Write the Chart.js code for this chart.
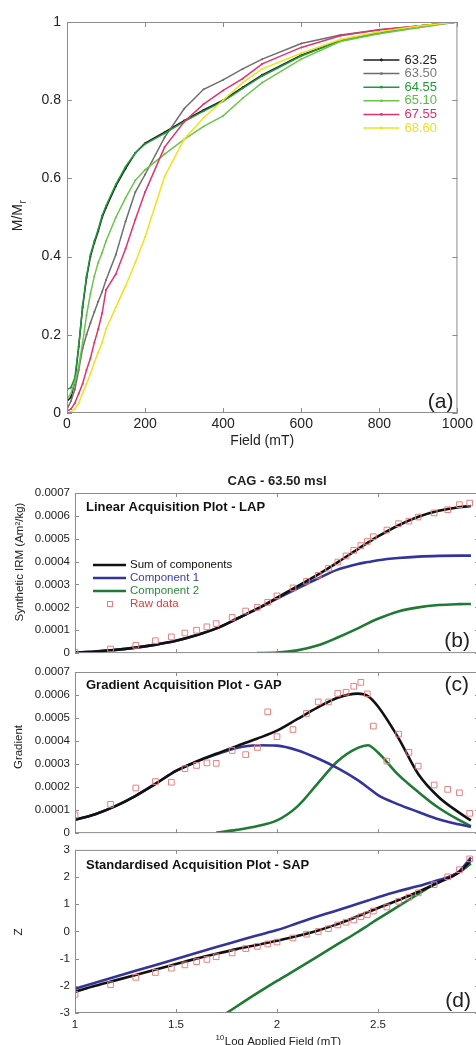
<!DOCTYPE html>
<html>
<head>
<meta charset="utf-8">
<script src="https://cdn.jsdelivr.net/npm/chart.js@4.4.1/dist/chart.umd.min.js"></script>
<style>
  html, body { margin: 0; padding: 0; background: #fff; width: 476px; height: 1045px; overflow: hidden; position: relative; }
  canvas { position: absolute; left: 0; }
</style>
</head>
<body>
<canvas id="figA" width="476" height="455" style="top:0"></canvas>
<canvas id="figB" width="486" height="205" style="top:460px"></canvas>
<canvas id="figC" width="486" height="185" style="top:660px"></canvas>
<canvas id="figD" width="486" height="207" style="top:838px"></canvas>
<script>
// ---- (a) normalised IRM acquisition, M/Mr vs field (mT) ----
const fieldA = [0, 10, 20, 30, 40, 50, 60, 70, 80, 90, 100, 125, 150, 175, 200, 250, 300, 350, 400, 450, 500, 600, 700, 800, 900, 1000];
const sampleLabels = ['63.25', '63.50', '64.55', '65.10', '67.55', '68.60'];
const m6325 = [0.03, 0.04, 0.08, 0.17, 0.27, 0.345, 0.40, 0.435, 0.465, 0.50, 0.525, 0.58, 0.625, 0.665, 0.69, 0.718, 0.748, 0.775, 0.80, 0.833, 0.865, 0.915, 0.953, 0.973, 0.99, 1];
const m6350 = [0.01, 0.03, 0.06, 0.11, 0.165, 0.20, 0.23, 0.258, 0.285, 0.31, 0.34, 0.405, 0.49, 0.565, 0.61, 0.705, 0.778, 0.828, 0.852, 0.88, 0.905, 0.945, 0.967, 0.98, 0.99, 1];
const m6455 = [0.06, 0.065, 0.09, 0.17, 0.275, 0.35, 0.405, 0.44, 0.47, 0.505, 0.53, 0.585, 0.63, 0.665, 0.688, 0.715, 0.745, 0.772, 0.797, 0.83, 0.862, 0.913, 0.952, 0.972, 0.99, 1];
const m6510 = [0.035, 0.05, 0.08, 0.12, 0.18, 0.25, 0.305, 0.35, 0.385, 0.41, 0.44, 0.50, 0.55, 0.595, 0.622, 0.662, 0.70, 0.733, 0.76, 0.805, 0.845, 0.905, 0.95, 0.97, 0.985, 1];
const m6755 = [0.005, 0.01, 0.025, 0.05, 0.075, 0.11, 0.14, 0.18, 0.215, 0.255, 0.315, 0.355, 0.42, 0.495, 0.565, 0.68, 0.745, 0.79, 0.825, 0.855, 0.893, 0.935, 0.965, 0.98, 0.99, 1];
const m6860 = [0, 0.003, 0.01, 0.025, 0.05, 0.075, 0.10, 0.13, 0.155, 0.18, 0.215, 0.27, 0.325, 0.385, 0.45, 0.605, 0.70, 0.755, 0.80, 0.845, 0.88, 0.92, 0.955, 0.975, 0.99, 1];
const sampleSeries = [m6325, m6350, m6455, m6510, m6755, m6860];

// ---- (b)-(d) IRM component analysis, x = log10 applied field (mT) ----
const logField = [1.0, 1.1, 1.2, 1.3, 1.4, 1.5, 1.6, 1.7, 1.8, 1.9, 2.0, 2.1, 2.2, 2.3, 2.4, 2.45, 2.5, 2.6, 2.7, 2.8, 2.9, 2.96];
const rawLogField = [1.0, 1.176, 1.301, 1.398, 1.477, 1.544, 1.602, 1.653, 1.699, 1.778, 1.845, 1.903, 1.954, 2.0, 2.079, 2.146, 2.204, 2.255, 2.301, 2.342, 2.380, 2.415, 2.447, 2.477, 2.544, 2.602, 2.653, 2.699, 2.778, 2.845, 2.903, 2.954];
const seriesNames = ['Sum of components', 'Component 1', 'Component 2', 'Raw data'];

const lapSum = [0.000002, 0.000007, 0.000014, 0.000024, 0.000037, 0.000054, 0.000078, 0.000108, 0.00015, 0.000193, 0.000242, 0.000292, 0.000342, 0.000397, 0.000455, 0.000483, 0.00051, 0.000558, 0.000596, 0.000622, 0.000638, 0.000643];
const lapComp1 = [0.000002, 0.000007, 0.000014, 0.000024, 0.000037, 0.000054, 0.000078, 0.000108, 0.000149, 0.000192, 0.000238, 0.000282, 0.000325, 0.000365, 0.00039, 0.000398, 0.000406, 0.000416, 0.000422, 0.000425, 0.000426, 0.000426];
const lapComp2 = [null, null, null, null, null, null, null, null, null, 0, 0.000002, 0.000012, 0.000033, 0.000068, 0.000108, 0.00013, 0.00015, 0.000182, 0.0002, 0.00021, 0.000214, 0.000215];
const lapRaw = [0.000004, 0.000018, 0.000034, 0.000054, 0.000071, 0.000088, 0.0001, 0.000115, 0.000129, 0.000156, 0.000184, 0.0002, 0.000222, 0.00025, 0.000285, 0.000314, 0.00034, 0.000371, 0.000398, 0.000425, 0.000449, 0.00047, 0.000488, 0.000509, 0.000538, 0.000566, 0.000577, 0.000595, 0.000613, 0.000627, 0.000649, 0.000656];

const gapSum = [0.000058, 0.000082, 0.000117, 0.000162, 0.000215, 0.00027, 0.00031, 0.000345, 0.000378, 0.00041, 0.000445, 0.000495, 0.000545, 0.000588, 0.000606, 0.000595, 0.00055, 0.000415, 0.000256, 0.000157, 0.00009, 0.000055];
const gapComp1 = [0.000058, 0.000082, 0.000117, 0.000162, 0.000215, 0.00027, 0.00031, 0.000342, 0.00037, 0.000382, 0.00038, 0.00036, 0.000325, 0.000282, 0.00023, 0.000198, 0.000165, 0.000125, 0.000092, 0.00006, 0.000038, 0.000027];
const gapComp2 = [null, null, null, null, null, null, null, 0.000002, 0.000014, 0.00003, 0.000055, 0.000115, 0.000214, 0.000312, 0.00037, 0.000382, 0.00035, 0.000254, 0.000178, 0.00011, 0.000057, 0.00003];
const gapRaw = [0.000079, 0.000125, 0.000196, 0.000224, 0.000221, 0.00028, 0.000294, 0.000305, 0.000303, 0.000359, 0.000341, 0.000372, 0.000527, 0.000419, 0.00045, 0.00052, 0.00057, 0.00057, 0.000607, 0.000612, 0.000638, 0.000655, 0.000605, 0.000465, 0.000313, 0.00043, 0.000351, 0.000291, 0.000209, 0.00019, 0.000175, 0.000086];

const sapSum = [-2.22, -2.0, -1.8, -1.6, -1.4, -1.2, -1.0, -0.82, -0.65, -0.5, -0.34, -0.17, 0.03, 0.27, 0.56, 0.71, 0.86, 1.15, 1.46, 1.8, 2.17, 2.62];
const sapComp1 = [-2.11, -1.89, -1.67, -1.45, -1.23, -1.01, -0.79, -0.57, -0.36, -0.15, 0.05, 0.3, 0.55, 0.78, 1.02, 1.14, 1.26, 1.48, 1.67, 1.89, 2.2, 2.72];
const sapComp2 = [null, null, null, null, null, null, null, -3.25, -2.76, -2.28, -1.82, -1.38, -0.93, -0.47, -0.02, 0.22, 0.46, 0.92, 1.38, 1.83, 2.17, 2.5];
const sapRaw = [-2.31, -1.96, -1.69, -1.51, -1.35, -1.23, -1.11, -1.03, -0.93, -0.79, -0.63, -0.55, -0.46, -0.39, -0.24, -0.1, 0.0, 0.1, 0.24, 0.34, 0.42, 0.54, 0.62, 0.75, 0.9, 1.11, 1.26, 1.42, 1.72, 2.01, 2.27, 2.67];

// styles
const FONT = '"Liberation Sans", Arial, Helvetica, sans-serif';
const sampleColors = ['#1c1c1c', '#6e6e6e', '#1f9a3b', '#6cc44c', '#e2336c', '#f0e21c'];
const sampleTextColors = ['#222', '#7a7a7a', '#23983a', '#5cb845', '#e0306a', '#efe020'];
const compColors = ['#111111', '#33349a', '#1f7a34', '#e88080'];
const compTextColors = ['#111', '#3a3cb0', '#2b8a3c', '#e43a3a'];
const frameColor = '#8c8c8c';

Chart.defaults.font.family = FONT;
Chart.defaults.color = '#222';
Chart.defaults.animation = false;

const pairs = (xs, ys) => xs.map((x, i) => ({ x, y: ys[i] }));

function txt(ctx, s, x, y, font, color, align) {
  ctx.font = font;
  ctx.fillStyle = color;
  ctx.textAlign = align || 'left';
  ctx.textBaseline = 'middle';
  ctx.fillText(s, x, y);
}

// box round the plot with inward ticks on all four sides
const framePlugin = {
  id: 'frame',
  afterDraw(chart, args, opts) {
    const { ctx, chartArea: a, scales } = chart;
    const t = opts.tick || 5;
    ctx.save();
    ctx.strokeStyle = frameColor;
    ctx.lineWidth = 1;
    ctx.strokeRect(a.left + 0.5, a.top + 0.5, a.right - a.left - 1, a.bottom - a.top - 1);
    ctx.beginPath();
    scales.x.ticks.forEach(tk => {
      const x = Math.round(scales.x.getPixelForValue(tk.value)) + 0.5;
      ctx.moveTo(x, a.bottom); ctx.lineTo(x, a.bottom - t);
      ctx.moveTo(x, a.top); ctx.lineTo(x, a.top + t);
    });
    scales.y.ticks.forEach(tk => {
      const y = Math.round(scales.y.getPixelForValue(tk.value)) + 0.5;
      ctx.moveTo(a.left, y); ctx.lineTo(a.left + t, y);
      ctx.moveTo(a.right, y); ctx.lineTo(a.right - t, y);
    });
    ctx.stroke();
    ctx.restore();
  }
};

// ---------- panel (a) ----------
const labelsA = {
  id: 'labelsA',
  afterDraw(chart) {
    const { ctx, chartArea: a } = chart;
    ctx.save();
    chart.data.datasets.forEach((ds, i) => {
      const y = a.top + 38 + i * 13.6;
      ctx.strokeStyle = ds.borderColor;
      ctx.lineWidth = 1.5;
      ctx.beginPath(); ctx.moveTo(a.right - 94, y); ctx.lineTo(a.right - 58, y); ctx.stroke();
      ctx.fillStyle = ds.borderColor;
      ctx.beginPath(); ctx.arc(a.right - 76, y, 1.4, 0, Math.PI * 2); ctx.fill();
      txt(ctx, ds.label, a.right - 53, y, '13px ' + FONT, sampleTextColors[i]);
    });
    txt(ctx, '(a)', a.right - 4, a.bottom - 11, '21px ' + FONT, '#222', 'right');
    txt(ctx, 'Field (mT)', (a.left + a.right) / 2, 441, '14px ' + FONT, '#222', 'center');
    // y title M/M with subscript r, rotated
    ctx.translate(18, 216);
    ctx.rotate(-Math.PI / 2);
    ctx.font = '14px ' + FONT;
    const w1 = ctx.measureText('M/M').width;
    ctx.font = '10px ' + FONT;
    const w2 = ctx.measureText('r').width;
    const x0 = -(w1 + w2) / 2;
    txt(ctx, 'M/M', x0, 0, '14px ' + FONT, '#222');
    txt(ctx, 'r', x0 + w1 + 0.5, 5, '10px ' + FONT, '#222');
    ctx.restore();
  }
};

new Chart(document.getElementById('figA'), {
  type: 'line',
  data: {
    datasets: sampleSeries.map((s, i) => ({
      label: sampleLabels[i],
      data: pairs(fieldA, s),
      borderColor: sampleColors[i],
      backgroundColor: sampleColors[i],
      borderWidth: 1.5,
      pointRadius: 1,
      pointBorderWidth: 0,
      tension: 0,
      order: sampleSeries.length - i
    }))
  },
  options: {
    responsive: false,
    layout: { padding: { top: 22, right: 15, left: 0, bottom: 0 } },
    plugins: { legend: { display: false }, tooltip: { enabled: false }, frame: { tick: 5 } },
    scales: {
      x: {
        type: 'linear', min: 0, max: 1000,
        grid: { display: false, drawTicks: false }, border: { display: false },
        ticks: { stepSize: 200, padding: 3, font: { size: 14 }, color: '#222', maxRotation: 0,
          callback: v => String(v) },
        afterFit: s => { s.height = 42; }
      },
      y: {
        min: 0, max: 1,
        grid: { display: false, drawTicks: false }, border: { display: false },
        ticks: { stepSize: 0.2, padding: 6, font: { size: 14 }, color: '#222', autoSkip: false,
          callback: v => String(+v.toFixed(1)) },
        afterFit: s => { s.width = 67; }
      }
    }
  },
  plugins: [framePlugin, labelsA]
});

// ---------- panels (b)-(d) ----------
function compDatasets(sum, c1, c2, raw) {
  const line = (i, ys, ord) => ({
    label: seriesNames[i], data: pairs(logField, ys), borderColor: compColors[i],
    borderWidth: 2.6, pointRadius: 0, cubicInterpolationMode: 'monotone', spanGaps: false, order: ord
  });
  return [
    line(0, sum, 1),
    line(1, c1, 2),
    line(2, c2, 3),
    { label: seriesNames[3], data: pairs(rawLogField, raw), showLine: false,
      pointStyle: 'rect', pointRadius: 4, pointBorderWidth: 1,
      borderColor: compColors[3], backgroundColor: 'rgba(0,0,0,0)', order: 0 }
  ];
}

function compChart(id, datasets, yOpts, layout, showX, drawText) {
  return new Chart(document.getElementById(id), {
    type: 'line',
    data: { datasets },
    options: {
      responsive: false,
      layout: { padding: { top: layout.top, right: 7, left: 0, bottom: 0 } },
      plugins: { legend: { display: false }, tooltip: { enabled: false }, frame: { tick: 4 } },
      scales: {
        x: {
          type: 'linear', min: 1, max: 3,
          grid: { display: false, drawTicks: false }, border: { display: false },
          ticks: { display: showX, stepSize: 0.5, padding: 5, font: { size: 11.5 }, color: '#222', maxRotation: 0,
            callback: v => (v >= 3 ? '' : String(+v.toFixed(1))) },
          afterFit: s => { s.height = layout.xh; }
        },
        y: Object.assign({
          grid: { display: false, drawTicks: false }, border: { display: false },
          afterFit: s => { s.width = 75; }
        }, yOpts)
      }
    },
    plugins: [framePlugin, { id: 'txt' + id, afterDraw: chart => {
      const ctx = chart.ctx;
      ctx.save();
      drawText(ctx, chart.chartArea, chart);
      ctx.restore();
    } }]
  });
}

const irmAxis = {
  min: 0, max: 0.0007,
  ticks: { stepSize: 0.0001, padding: 5, font: { size: 11.5 }, color: '#222', autoSkip: false,
    callback: v => (Math.abs(v) < 1e-9 ? '0' : v.toFixed(4)) }
};

function rotatedTitle(ctx, s, x, y, font) {
  ctx.save();
  ctx.translate(x, y);
  ctx.rotate(-Math.PI / 2);
  txt(ctx, s, 0, 0, font, '#222', 'center');
  ctx.restore();
}

compChart('figB', compDatasets(lapSum, lapComp1, lapComp2, lapRaw), irmAxis, { top: 33, xh: 8 }, false, (ctx, a, chart) => {
  txt(ctx, 'CAG - 63.50 msl', (a.left + 479) / 2, a.top - 12, 'bold 13px ' + FONT, '#222', 'center');
  txt(ctx, 'Linear Acquisition Plot - LAP', a.left + 11, a.top + 14, 'bold 13px ' + FONT, '#111');
  txt(ctx, '(b)', 470, a.bottom - 12, '21px ' + FONT, '#222', 'right');
  chart.data.datasets.forEach((ds, i) => {
    const y = a.top + 72 + i * 13;
    if (i < 3) {
      ctx.strokeStyle = ds.borderColor; ctx.lineWidth = 2.6;
      ctx.beginPath(); ctx.moveTo(93, y); ctx.lineTo(126, y); ctx.stroke();
    } else {
      ctx.strokeStyle = ds.borderColor; ctx.lineWidth = 1;
      ctx.strokeRect(107.5, y - 2.5, 5, 5);
    }
    txt(ctx, ds.label, 130, y, '11.5px ' + FONT, compTextColors[i]);
  });
  rotatedTitle(ctx, 'Synthetic IRM (Am²/kg)', 20, a.top + 69, '11.5px ' + FONT);
});

compChart('figC', compDatasets(gapSum, gapComp1, gapComp2, gapRaw), irmAxis, { top: 12, xh: 8 }, false, (ctx, a) => {
  txt(ctx, 'Gradient Acquisition Plot - GAP', a.left + 11, a.top + 13, 'bold 13px ' + FONT, '#111');
  txt(ctx, '(c)', 469, a.top + 13, '21px ' + FONT, '#222', 'right');
  rotatedTitle(ctx, 'Gradient', 19, a.top + 75, '11.5px ' + FONT);
});

compChart('figD', compDatasets(sapSum, sapComp1, sapComp2, sapRaw), {
  min: -3, max: 3,
  ticks: { stepSize: 1, padding: 5, font: { size: 11.5 }, color: '#222', autoSkip: false }
}, { top: 9, xh: 32 }, true, (ctx, a) => {
  txt(ctx, 'Standardised Acquisition Plot - SAP', a.left + 11, a.top + 16, 'bold 13px ' + FONT, '#111');
  txt(ctx, '(d)', 471, a.bottom - 12, '21px ' + FONT, '#222', 'right');
  rotatedTitle(ctx, 'Z', 19, a.top + 82, '11.5px ' + FONT);
  // x title with superscript 10
  ctx.font = '8px ' + FONT;
  const ws = ctx.measureText('10').width;
  ctx.font = '11.5px ' + FONT;
  const wm = ctx.measureText('Log Applied Field (mT)').width;
  const x0 = 278 - (ws + wm) / 2;
  txt(ctx, '10', x0, a.bottom + 25, '8px ' + FONT, '#222');
  txt(ctx, 'Log Applied Field (mT)', x0 + ws + 0.5, a.bottom + 29, '11.5px ' + FONT, '#222');
});
</script>
</body>
</html>
